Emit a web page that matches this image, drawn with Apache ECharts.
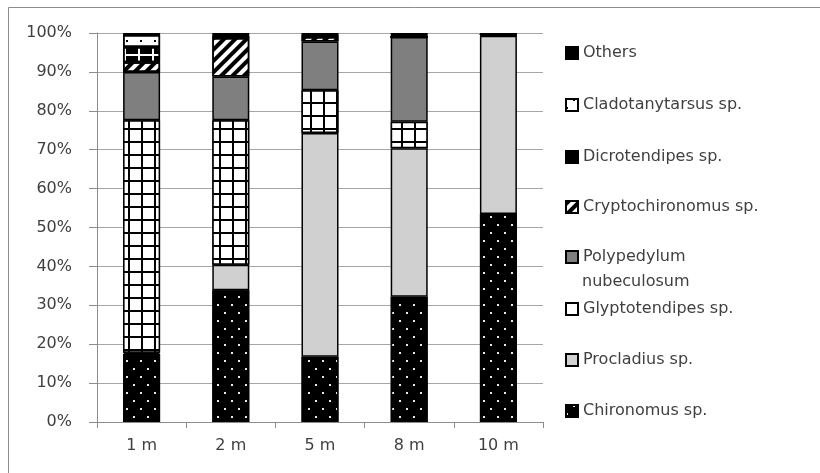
<!DOCTYPE html>
<html>
<head>
<meta charset="utf-8">
<script src="https://cdn.jsdelivr.net/npm/echarts@6/dist/echarts.min.js"></script>
<style>
  html, body { margin: 0; padding: 0; background: #fff; }
  #chart { width: 820px; height: 473px; }
</style>
</head>
<body>
<div id="chart"></div>
<script>
// depth categories
const categories = ['1 m', '2 m', '5 m', '8 m', '10 m'];

// share of each taxon per depth (%)
const chironomus       = [17.5, 33.9, 16.8, 32.2, 53.5];
const procladius       = [0.3, 6.5, 57.5, 38.2, 45.8];
const glyptotendipes   = [59.8, 37.2, 11.0, 6.8, 0.3];
const polypedylum      = [12.4, 11.2, 12.5, 21.8, 0.0];
const cryptochironomus = [2.5, 9.9, 1.2, 0, 0];
const dicrotendipes    = [3.9, 0.6, 0.2, 0, 0];
const cladotanytarsus  = [3.1, 0.2, 0, 0, 0];
const others           = [0.5, 0.5, 0.8, 1.0, 0.4];

const FONT = 'DejaVu Sans';
const TEXT = '#404040';

// bottom-up stacking order
const seriesDefs = [
  { name: 'Chironomus sp.', data: chironomus, color: '#000',
    decal: { symbol: 'rect', color: '#e8e8e8', dashArrayX: [[1.5, 11.5], [0, 6.5, 1.5, 5]], dashArrayY: [1.5, 5.2] } },
  { name: 'Procladius sp.', data: procladius, color: '#d0d0d0' },
  { name: 'Glyptotendipes sp.', data: glyptotendipes, color: '#000',
    decal: { symbol: 'rect', color: '#fff', dashArrayX: [11, 2], dashArrayY: [11, 2] } },
  { name: 'Polypedylum nubeculosum', data: polypedylum, color: '#7f7f7f' },
  { name: 'Cryptochironomus sp.', data: cryptochironomus, color: '#fff',
    decal: { symbol: 'rect', color: '#000', dashArrayX: [1, 0], dashArrayY: [3.5, 3.5], rotation: -Math.PI / 4 } },
  { name: 'Dicrotendipes sp.', data: dicrotendipes, color: '#fff',
    decal: { symbol: 'rect', color: '#000', dashArrayX: [11.5, 1.5], dashArrayY: [11.5, 1.5] } },
  { name: 'Cladotanytarsus sp.', data: cladotanytarsus, color: '#fff',
    decal: { symbol: 'rect', color: '#000', dashArrayX: [[1.5, 11.5], [0, 6.5, 1.5, 5]], dashArrayY: [1.5, 6] } },
  { name: 'Others', data: others, color: '#000' }
];

// legend rows, top to bottom (center y)
const legendRows = [
  ['Others', 51], ['Cladotanytarsus sp.', 103], ['Dicrotendipes sp.', 155],
  ['Cryptochironomus sp.', 205], ['Polypedylum nubeculosum', 255],
  ['Glyptotendipes sp.', 307], ['Procladius sp.', 358], ['Chironomus sp.', 409]
];

const chart = echarts.init(document.getElementById('chart'));

const option = {
  animation: false,
  backgroundColor: '#fff',
  textStyle: { fontFamily: FONT },
  grid: { left: 97, right: 277, top: 33, bottom: 51 },
  legend: legendRows.map(([name, y]) => ({
    data: [name],
    left: 565,
    top: y - 6,
    padding: 0,
    icon: 'rect',
    itemWidth: 12,
    itemHeight: 12,
    selectedMode: false,
    formatter: n => (n === 'Polypedylum nubeculosum' ? 'Polypedylum' : n),
    textStyle: { color: TEXT, fontSize: 16, fontFamily: FONT }
  })),
  graphic: [
    { type: 'rect', z: -1, shape: { x: 8.5, y: 7.5, width: 900, height: 600 },
      style: { fill: 'none', stroke: '#8c8c8c', lineWidth: 1 } },
    { type: 'text', left: 582, top: 274,
      style: { text: 'nubeculosum', fill: TEXT, font: '16px "' + FONT + '"' } }
  ],
  xAxis: {
    type: 'category',
    data: categories,
    axisLine: { lineStyle: { color: '#8c8c8c' } },
    axisTick: { show: true, length: 6, lineStyle: { color: '#8c8c8c' } },
    axisLabel: { color: TEXT, fontSize: 16, margin: 16 }
  },
  yAxis: {
    type: 'value',
    min: 0,
    max: 100,
    interval: 10,
    axisLine: { show: true, lineStyle: { color: '#8c8c8c' } },
    axisTick: { show: true, length: 8, lineStyle: { color: '#8c8c8c' } },
    axisLabel: { color: TEXT, fontSize: 16, margin: 25, formatter: '{value}%' },
    splitLine: { lineStyle: { color: '#a6a6a6' } }
  },
  series: seriesDefs.map(s => ({
    name: s.name,
    type: 'bar',
    stack: 'total',
    barWidth: 37,
    data: s.data,
    itemStyle: {
      color: s.color,
      borderColor: '#000',
      borderWidth: 1.5,
      decal: s.decal || null
    }
  }))
};

chart.setOption(option);
</script>
</body>
</html>
